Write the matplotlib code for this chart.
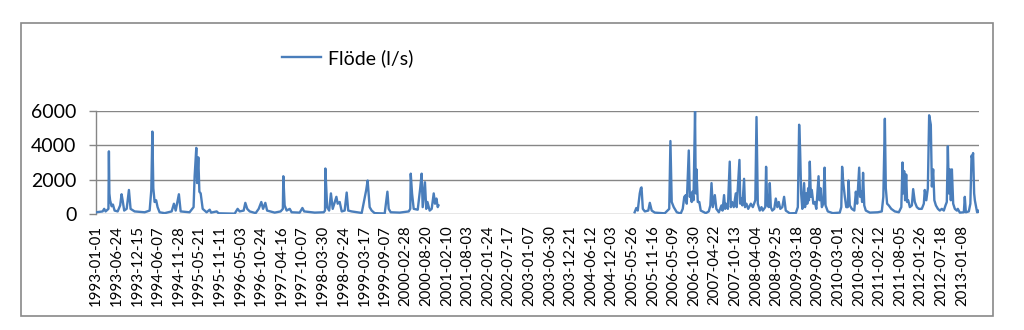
import numpy as np
import pandas as pd
import matplotlib
matplotlib.use("Agg")
import matplotlib.pyplot as plt
from matplotlib.patches import Rectangle

# ---- data ----
dates_a = ["1993-01-01","1993-02-25","1993-03-10","1993-03-22","1993-04-15","1993-04-19","1993-04-23","1993-04-29",
           "1993-05-12","1993-05-23",
           "1993-06-06","1993-07-02","1993-07-23","1993-08-04","1993-08-13","1993-08-26","1993-09-16","1993-10-05",
           "1993-10-19","1993-11-22","1994-02-15","1994-03-29","1994-04-12","1994-04-21","1994-04-29","1994-05-10",
           "1994-05-23","1994-06-04","1994-06-21","1994-08-03","1994-10-01","1994-10-20","1994-11-04","1994-12-01",
           "1994-12-16","1995-03-01","1995-04-04","1995-04-13","1995-04-27","1995-05-04","1995-05-14","1995-05-23",
           "1995-06-03","1995-06-20","1995-07-23","1995-08-18","1995-08-30","1995-10-16","1995-11-02","1996-03-16",
           "1996-04-10","1996-04-27","1996-05-31","1996-06-14","1996-06-30","1996-07-21","1996-09-09","1996-10-05",
           "1996-10-27","1996-11-11","1996-11-30","1996-12-15","1997-02-17","1997-04-08","1997-04-27","1997-05-01",
           "1997-05-12",
           "1997-05-29","1997-06-24","1997-07-10","1997-09-16","1997-10-09","1997-10-24","1998-01-21","1998-04-07",
           "1998-04-18","1998-04-21","1998-05-06","1998-05-23","1998-06-07","1998-06-22","1998-07-23","1998-08-03",
           "1998-08-20",
           "1998-09-06","1998-10-01","1998-10-18","1998-10-31","1998-11-29","1999-02-22","1999-04-01","1999-04-13",
           "1999-04-30","1999-05-17","1999-06-11","1999-09-04","1999-09-27","1999-10-08","1999-10-25","2000-01-09",
           "2000-03-25","2000-04-07","2000-04-11","2000-04-22","2000-05-06","2000-06-09","2000-06-30","2000-07-12",
           "2000-07-21",
           "2000-08-09","2000-08-20","2000-08-30","2000-09-18","2000-10-05","2000-10-22","2000-11-02","2000-11-14",
           "2000-11-25","2000-12-01"]
flow_a = [100,150,300,150,300,3650,1200,800,
          450,550,
          200,150,500,1150,800,200,300,1400,
          300,150,100,200,1400,4800,1500,700,
          800,400,100,50,150,600,200,1150,
          150,100,400,2200,3850,1800,3300,1300,
          1200,300,100,250,80,150,40,20,
          300,150,200,650,300,150,50,300,
          700,300,650,200,80,150,300,2200,
          500,
          200,300,100,80,350,150,80,100,
          200,2650,400,200,1200,300,1000,600,
          700,
          150,200,1250,200,150,60,1400,1950,
          400,200,50,30,1300,300,100,80,
          150,300,2350,1200,300,250,1500,2350,
          400,
          1850,300,700,200,300,1200,600,900,
          400,500]

dates_b = ["2005-06-15","2005-06-29","2005-07-11","2005-07-28","2005-08-06","2005-08-12","2005-08-23","2005-09-09",
           "2005-10-08","2005-10-21","2005-11-06","2005-12-02","2006-02-24","2006-04-03","2006-04-13","2006-04-24",
           "2006-05-11","2006-06-06","2006-07-09","2006-07-26","2006-08-08","2006-08-21","2006-08-29","2006-09-15",
           "2006-09-24","2006-09-30","2006-10-10","2006-10-16","2006-10-25","2006-11-07","2006-11-13","2006-11-19",
           "2006-11-30","2006-12-13","2006-12-25","2007-02-06","2007-03-03","2007-03-16","2007-03-26","2007-04-06",
           "2007-04-23","2007-05-06","2007-05-27","2007-06-18","2007-06-27","2007-07-10","2007-07-19","2007-07-27",
           "2007-08-11","2007-08-27","2007-09-05","2007-09-16","2007-09-30","2007-10-17","2007-10-25","2007-11-17",
           "2007-11-24","2007-12-04","2007-12-12","2007-12-26","2008-01-03","2008-01-15","2008-01-30","2008-02-21",
           "2008-03-09","2008-03-30","2008-04-09","2008-04-20","2008-05-07","2008-05-21","2008-06-01","2008-06-22",
           "2008-06-29","2008-07-09","2008-07-22","2008-07-30","2008-08-08","2008-08-20","2008-09-06","2008-09-19",
           "2008-10-02","2008-10-14","2008-10-27","2008-11-13","2008-11-28","2008-12-12","2009-01-15","2009-03-07",
           "2009-03-24","2009-04-04","2009-04-12","2009-04-21","2009-05-01","2009-05-16","2009-05-24","2009-06-04",
           "2009-06-12","2009-06-19","2009-06-26","2009-07-03","2009-07-12","2009-07-20","2009-08-02","2009-08-15",
           "2009-08-27","2009-09-15","2009-09-23","2009-10-02","2009-10-13","2009-10-25","2009-11-05","2009-11-13",
           "2009-12-02","2010-01-13","2010-03-13","2010-03-26","2010-04-02","2010-04-12","2010-04-25","2010-05-07",
           "2010-05-20","2010-05-26","2010-06-06","2010-06-23","2010-07-14","2010-07-27","2010-08-07","2010-08-24",
           "2010-09-01","2010-09-10","2010-09-18","2010-09-26","2010-10-06","2010-10-19","2010-11-22","2011-01-28",
           "2011-03-03","2011-03-16","2011-03-29","2011-04-06","2011-04-17","2011-05-01","2011-05-22","2011-06-21",
           "2011-07-25","2011-08-15","2011-08-25","2011-09-01","2011-09-08","2011-09-16","2011-09-25","2011-10-03",
           "2011-10-12","2011-10-26","2011-11-12","2011-11-23","2011-12-07","2011-12-24","2012-01-10","2012-02-04",
           "2012-02-21","2012-02-29","2012-03-13","2012-03-26","2012-04-06","2012-04-12","2012-04-20","2012-04-29",
           "2012-05-10","2012-05-20","2012-06-02","2012-06-19","2012-07-05","2012-07-22","2012-08-08","2012-08-22",
           "2012-09-02","2012-09-11","2012-09-19","2012-09-28","2012-10-06","2012-10-15","2012-10-26","2012-11-09",
           "2012-11-26","2012-12-04","2012-12-21","2013-01-24","2013-02-01","2013-02-10","2013-03-07","2013-03-20",
           "2013-03-30","2013-04-06","2013-04-12","2013-04-21","2013-04-27","2013-05-16","2013-05-26","2013-05-31"]
flow_b = [100,350,200,1200,1500,1550,300,150,
          200,650,200,80,40,300,4250,700,
          400,100,30,300,1000,1100,600,3700,
          1000,1200,700,1300,800,6000,1200,2600,
          700,700,200,50,150,500,1800,400,
          1100,300,100,500,200,1100,300,600,
          300,3050,400,700,400,1200,400,3150,
          600,900,500,2050,400,600,300,600,
          400,800,5650,600,200,400,200,400,
          2750,500,400,1800,400,200,300,900,
          400,700,300,400,1000,200,40,50,
          400,5200,3800,1200,300,1800,400,1200,
          600,1500,800,3050,1000,1400,600,700,
          300,2200,800,1500,400,600,2700,500,
          150,50,80,400,2750,1800,1000,400,
          400,1950,500,300,200,1300,600,2700,
          1000,1300,700,2400,500,200,80,100,
          150,1000,5550,1500,600,500,300,150,
          100,400,3000,1200,2500,800,2300,700,
          800,400,500,1450,700,400,300,300,
          600,1400,800,1500,5750,5500,5200,1600,
          2600,800,500,300,200,300,200,500,
          700,3950,1200,2600,800,2600,600,300,
          200,300,80,100,1000,100,150,600,
          3400,3200,3550,1200,800,100,200,150]

series_label = "Flöde (l/s)"
tick_labels = ["1993-01-01","1993-06-24","1993-12-15","1994-06-07","1994-11-28","1995-05-21","1995-11-11",
               "1996-05-03","1996-10-24","1997-04-16","1997-10-07","1998-03-30","1998-09-24","1999-03-17",
               "1999-09-07","2000-02-28","2000-08-20","2001-02-10","2001-08-03","2002-01-24","2002-07-17",
               "2003-01-07","2003-06-30","2003-12-21","2004-06-12","2004-12-03","2005-05-26","2005-11-16",
               "2006-05-09","2006-10-30","2007-04-22","2007-10-13","2008-04-04","2008-09-25","2009-03-18",
               "2009-09-08","2010-03-01","2010-08-22","2011-02-12","2011-08-05","2012-01-26","2012-07-18",
               "2013-01-08"]
y_ticks = [0, 2000, 4000, 6000]

# ---- build series (gap between the two measurement periods) ----
x = pd.to_datetime(dates_a + ["2003-01-01"] + dates_b)
y = np.array(flow_a + [np.nan] + flow_b, dtype=float)

plt.rcParams['font.family'] = ['Lato', 'DejaVu Sans']

fig = plt.figure(figsize=(10.24, 3.30), dpi=100)
fig.patch.set_facecolor("white")
ax = fig.add_axes([96/1024, 1-214/330, (979-96)/1024, (214-111)/330])

grid_c = "#868686"
line_c = "#4A7EBB"

for v in y_ticks:
    ax.axhline(v, color=grid_c, lw=1.0, zorder=1)

ax.plot(x, y, color=line_c, lw=1.7, label=series_label, zorder=3, solid_joinstyle="round")

ax.set_ylim(0, 6000)
ax.set_xlim(pd.Timestamp("1992-12-31"), pd.Timestamp("2013-06-01"))
ax.set_yticks(y_ticks)
ax.set_yticklabels([str(v) for v in y_ticks], fontsize=14)
ax.set_xticks(pd.to_datetime(tick_labels))
ax.set_xticklabels(tick_labels, rotation=90, fontsize=10.8, ha="center", va="top")

for s in ["top", "right", "bottom"]:
    ax.spines[s].set_visible(False)
ax.spines["left"].set_color(grid_c)
ax.spines["left"].set_linewidth(1.0)
ax.tick_params(axis="y", length=5, width=1.0, color=grid_c, pad=9, labelcolor="black")
ax.tick_params(axis="x", length=0, pad=8, labelcolor="black")

ax.legend(loc="center", bbox_to_anchor=(348/1024, 1-58/330), bbox_transform=fig.transFigure,
          frameon=False, fontsize=14, handlelength=2.0, handletextpad=0.35)

fig.add_artist(Rectangle((21/1024, 1-316/330), (993-21)/1024, (316-23)/330,
                         transform=fig.transFigure, fill=False, edgecolor="#898989", lw=1.2))

fig.savefig("out.png", dpi=100, facecolor="white")
